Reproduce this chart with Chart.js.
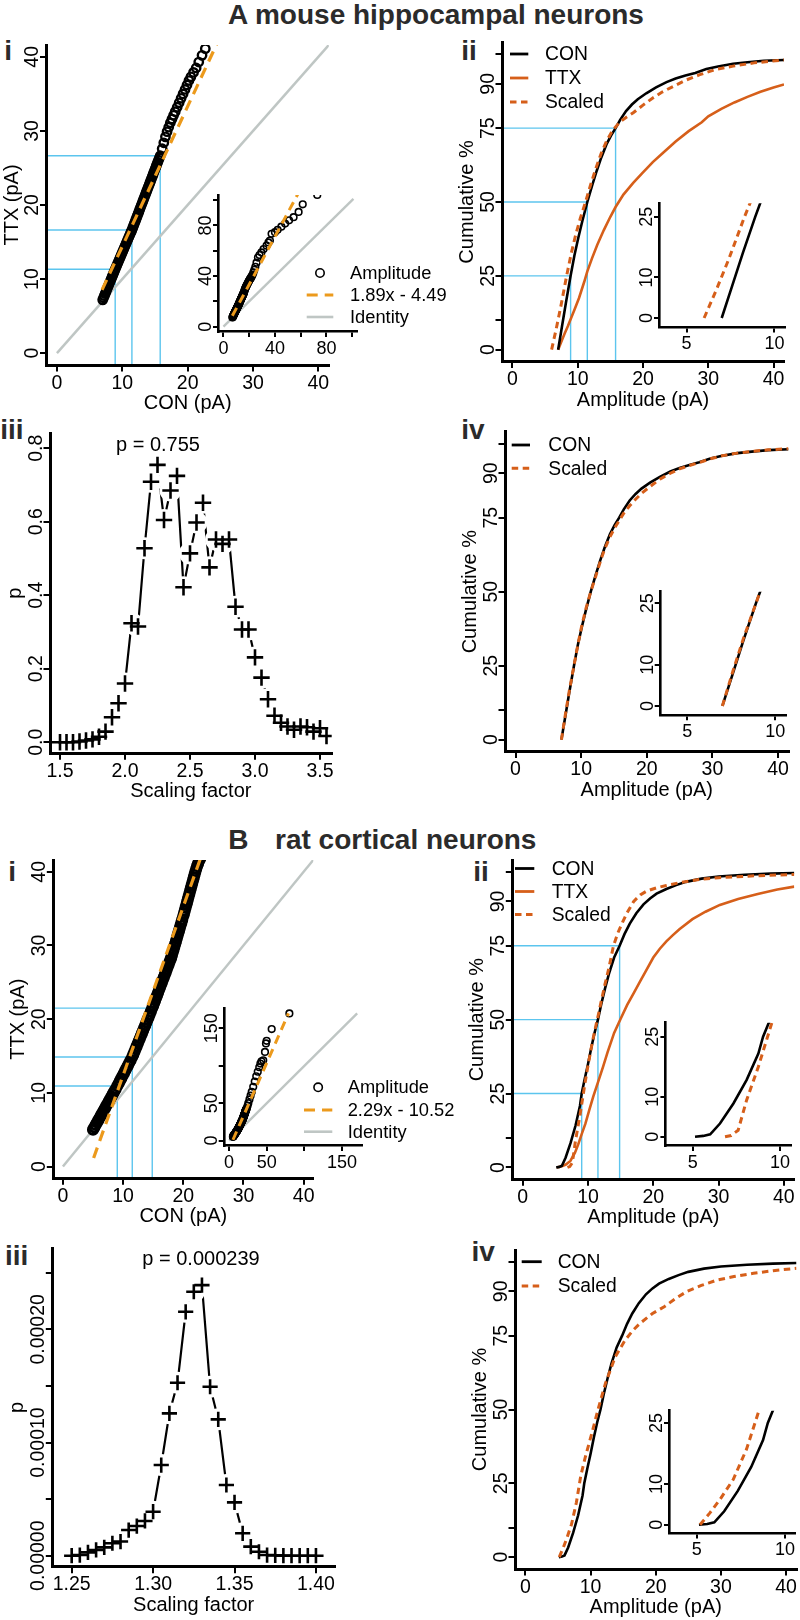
<!DOCTYPE html>
<html><head><meta charset="utf-8">
<script src="https://cdn.jsdelivr.net/npm/chart.js@4.4.1/dist/chart.umd.min.js"></script>
<style>
html,body{margin:0;padding:0;background:#fff;}
body{width:800px;height:1620px;position:relative;overflow:hidden;font-family:"Liberation Sans",Arial,sans-serif;}
canvas{position:absolute;}
.t{position:absolute;font-weight:bold;color:#2b2b2b;white-space:pre;font-size:28px;line-height:28px;}
</style></head><body>
<div class="t" style="left:228px;top:1.3px">A mouse hippocampal neurons</div>
<div class="t" style="left:228.3px;top:826.3px">B</div>
<div class="t" style="left:275px;top:826.3px">rat cortical neurons</div>
<div class="t" style="left:4.2px;top:37.3px">i</div>
<div class="t" style="left:461.2px;top:37.3px">ii</div>
<div class="t" style="left:0.2px;top:415.6px">iii</div>
<div class="t" style="left:461.2px;top:415.6px">iv</div>
<div class="t" style="left:8.2px;top:858px">i</div>
<div class="t" style="left:473.2px;top:858px">ii</div>
<div class="t" style="left:4.9px;top:1242.3px">iii</div>
<div class="t" style="left:471.5px;top:1238px">iv</div>
<script>
// ---------------- tick values / labels ----------------
const ampTicks = [0, 10, 20, 30, 40];
const ampLabels = ['0', '10', '20', '30', '40'];
const cumTicks = [0, 10, 25, 50, 75, 90, 100];
const cumLabels = ['0', '', '25', '50', '75', '90', ''];
const zoomAmpTicks = [5, 10];
const zoomAmpLabels = ['5', '10'];
const zoomCumTicks = [0, 10, 25];
const zoomCumLabels = ['0', '10', '25'];
const qqInsetTicksA = [0, 20, 40, 60, 80, 100];
const qqInsetLabelsA = ['0', '', '40', '', '80', ''];
const qqInsetTicksB = [0, 50, 100, 150];
const qqInsetLabelsB = ['0', '50', '', '150'];
const sfTicksA = [1.5, 2.0, 2.5, 3.0, 3.5];
const sfLabelsA = ['1.5', '2.0', '2.5', '3.0', '3.5'];
const pTicksA = [0, 0.2, 0.4, 0.6, 0.8];
const pLabelsA = ['0.0', '0.2', '0.4', '0.6', '0.8'];
const sfTicksB = [1.25, 1.30, 1.35, 1.40];
const sfLabelsB = ['1.25', '1.30', '1.35', '1.40'];
const pTicksB = [0, 0.00005, 0.0001, 0.00015, 0.0002, 0.00025];
const pLabelsB = ['0.00000', '', '0.00010', '', '0.00020', ''];
const quartilePct = [25, 50, 75];
const cdfNames = ['CON', 'TTX', 'Scaled'];
const qqNamesA = ['Amplitude', '1.89x - 4.49', 'Identity'];
const qqNamesB = ['Amplitude', '2.29x - 10.52', 'Identity'];
const pTextA = 'p = 0.755';
const pTextB = 'p = 0.000239';

// ---------------- Panel A data (mouse hippocampal) ----------------
// QQ points: CON amplitude quantile (pA), TTX amplitude quantile (pA)
const qqA = [[7.0,7.2],[7.13,7.48],[7.26,7.76],[7.39,8.04],[7.52,8.32],[7.65,8.61],[7.78,8.89],[7.91,9.17],[8.04,9.45],[8.17,9.73],[8.3,10.01],[8.43,10.29],[8.56,10.57],[8.69,10.85],[8.8,11.09],[8.91,11.33],
[9.04,11.6],[9.17,11.87],[9.3,12.14],[9.43,12.41],[9.56,12.68],[9.69,12.94],[9.82,13.21],[9.95,13.48],[10.08,13.75],[10.21,14.02],[10.34,14.29],[10.47,14.56],[10.6,14.83],[10.73,15.1],[10.86,15.37],[10.99,15.64],[11.12,15.9],[11.25,16.17],[11.36,16.4],[11.47,16.63],
[11.59,16.91],[11.71,17.19],[11.83,17.46],[11.95,17.74],[12.07,18.02],[12.19,18.3],[12.31,18.57],[12.43,18.85],[12.55,19.13],[12.67,19.41],[12.79,19.68],[12.91,19.96],[13.03,20.24],[13.15,20.52],[13.27,20.8],[13.39,21.07],[13.51,21.35],[13.63,21.63],[13.75,21.91],[13.87,22.18],[13.99,22.46],[14.11,22.74],[14.23,23.02],[14.35,23.29],[14.47,23.57],[14.59,23.85],[14.71,24.13],[14.83,24.41],[14.95,24.68],[15.07,24.96],[15.19,25.24],[15.31,25.52],[15.43,25.79],[15.55,26.07],[15.67,26.35],[15.8,26.65],
[16.1,27.6],[16.35,28.4],[16.6,29.2],[16.85,29.9],[17.1,30.5],[17.35,31.1],[17.6,31.6],[17.85,32.1],[18.1,32.6],[18.4,33.2],[18.7,33.8],[19.0,34.4],[19.3,35.0],[19.6,35.6],[19.9,36.2],[20.2,36.8],[20.5,37.3],[20.9,37.9],[21.3,38.5],[21.7,39.3],[22.2,40.2],[22.7,41.1],[23.3,42.8],[24.0,44.9],[24.8,47.3],[25.7,50.5],[26.8,54.6],[28.0,56.5],[29.5,58.6],[31.2,61.3],[33.5,64.0],[35.0,66.5],[36.1,68.0],[37.4,73.4],[40.0,74.6],[42.1,76.5],[45.0,79.0],[47.9,81.4],[51.0,84.0],[54.5,86.5],[58.4,90.6],[61.6,96.6],[72.9,104.0]];
const fitA = [[6.9,8.55],[59.5,107.97]];          // 1.89x - 4.49
const identA = [[0,0],[101,101]];
const conQA = [8.91, 11.47, 15.8];                // CON quartiles (pA)
const ttxQA = [11.33, 16.63, 26.65];              // TTX quartiles (pA)
const conA = [[7.0,0],[7.6,8],[8.2,16],[8.91,25],[9.5,32],[10.1,38],[10.7,43.5],[11.47,50],[12.2,55.5],[12.9,60.5],[13.6,65],[14.4,69.5],[15.1,72.5],[15.8,75],[16.5,77.8],[17.4,80.8],[18.3,83],[19.2,84.8],[20.5,86.8],[22.0,88.8],[23.6,90.6],[25.0,91.8],[26.5,92.8],[28.0,93.7],[29.7,95.0],[31.5,95.9],[33.8,96.8],[36.0,97.3],[38.5,97.8],[41.6,98.1]];
const ttxA = [[7.0,0],[7.5,2.8],[8.0,5.5],[8.5,8.0],[8.91,10.3],[9.5,13.5],[10.2,17.5],[11.0,23.0],[11.47,26.5],[12.2,31.0],[13.0,35.5],[14.0,40.5],[15.0,45.0],[15.8,48.3],[17.0,52.5],[18.5,56.5],[20.0,60.0],[21.5,63.5],[23.0,66.5],[25.0,70.5],[27.0,74.0],[29.0,77.0],[30.0,79.0],[32.0,81.5],[34.0,83.7],[36.0,85.6],[38.0,87.3],[40.0,88.8],[41.6,89.8]];
const scaledA = [[6.0,0],[6.7,7],[7.4,14.5],[8.3,25],[9.0,32.5],[9.7,39],[10.4,44.5],[11.2,50],[12.0,56],[12.8,61.5],[13.6,66.5],[14.5,71],[15.4,74.4],[16.5,77.2],[17.5,78.8],[18.5,80.2],[20.0,82.8],[21.5,85.2],[23.0,87.3],[24.6,89.1],[26.5,91.2],[28.7,93.1],[31.0,94.8],[33.8,96.0],[37.0,97.1],[41.6,98.1]];
const scaledBestA = [[7.0,0],[7.6,8.5],[8.2,16.5],[8.91,25],[9.5,32],[10.1,38.5],[10.7,44],[11.47,50],[12.2,55],[12.9,60],[13.6,64.5],[14.4,68.5],[15.1,71.5],[15.8,74],[16.5,76.5],[17.4,79],[18.3,81.2],[19.2,83.2],[20.5,85.5],[22.0,88.0],[23.6,90.0],[25.0,91.5],[26.5,92.6],[28.0,93.6],[29.7,94.9],[31.5,95.9],[33.8,96.8],[36.0,97.4],[38.5,97.9],[41.6,98.3]];
const sfA = [1.50,1.55,1.60,1.65,1.70,1.75,1.80,1.85,1.90,1.95,2.00,2.05,2.10,2.15,2.20,2.25,2.30,2.35,2.40,2.45,2.50,2.55,2.60,2.65,2.70,2.75,2.80,2.85,2.90,2.95,3.00,3.05,3.10,3.15,3.20,3.25,3.30,3.35,3.40,3.45,3.50,3.55];
const pA = [0.0,0.0,0.0,0.002,0.005,0.008,0.015,0.029,0.068,0.106,0.16,0.324,0.315,0.528,0.709,0.755,0.605,0.685,0.725,0.422,0.514,0.598,0.652,0.476,0.552,0.540,0.552,0.369,0.307,0.307,0.231,0.176,0.117,0.072,0.053,0.043,0.034,0.043,0.041,0.029,0.038,0.017];

// ---------------- Panel B data (rat cortical) ----------------
const qqB = [[5.0,5.0],[5.22,5.32],[5.44,5.65],[5.66,5.97],[5.88,6.29],[6.1,6.62],[6.32,6.94],[6.54,7.26],[6.76,7.59],[6.98,7.91],[7.2,8.23],[7.42,8.56],[7.64,8.88],[7.86,9.2],[8.08,9.52],[8.3,9.85],[8.52,10.17],[8.74,10.49],[9.03,10.92],
[9.25,11.27],[9.47,11.62],[9.69,11.96],[9.91,12.31],[10.13,12.66],[10.35,13.01],[10.57,13.36],[10.79,13.7],[11.01,14.05],[11.23,14.4],[11.52,14.86],
[11.7,15.22],[11.88,15.58],[12.06,15.94],[12.24,16.3],[12.42,16.66],[12.6,17.02],[12.78,17.38],[12.96,17.74],[13.14,18.1],[13.32,18.46],[13.5,18.82],[13.68,19.18],[13.86,19.54],[14.04,19.9],[14.22,20.26],[14.4,20.62],[14.6,21.02],[14.84,21.5],
[15.0,21.85],[15.16,22.2],[15.32,22.55],[15.48,22.9],[15.64,23.24],[15.8,23.59],[15.96,23.94],[16.12,24.29],[16.28,24.64],[16.44,24.99],[16.6,25.34],[16.76,25.69],[16.92,26.03],[17.08,26.38],[17.24,26.73],[17.4,27.08],[17.56,27.43],[17.72,27.78],[17.88,28.13],[18.0,28.39],
[18.13,28.76],[18.26,29.13],[18.39,29.49],[18.52,29.86],[18.65,30.22],[18.78,30.58],[18.91,30.95],[19.04,31.31],[19.17,31.68],[19.3,32.04],[19.43,32.4],[19.56,32.77],[19.69,33.13],[19.82,33.5],[20.0,34.0],
[20.125,34.38],[20.25,34.75],[20.375,35.13],[20.5,35.5],[20.625,35.88],[20.75,36.25],[20.875,36.63],[21.0,37.0],[21.125,37.38],[21.25,37.75],[21.375,38.13],[21.5,38.5],[21.625,38.88],[21.75,39.25],[21.875,39.63],[22.0,40.0],
[22.15,40.4],[22.3,40.8],[22.45,41.1],[22.6,41.45],[22.75,41.7],[22.9,42.0],[23.5,43.5],[24.5,46.5],[25.5,50.0],[27.0,55.0],[28.5,60.0],[30.0,65.0],[32.0,72.0],[34.0,79.0],[36.0,86.0],[38.0,92.0],[40.0,98.0],[41.5,103.0],[43.0,106.0],[45.3,107.4],[47.6,118.5],[48.9,129.8],[49.8,133.3],[56.5,149.0],[80.0,170.0]];
const fitB = [[5.1,1.16],[78.8,169.93]];          // 2.29x - 10.52
const identB = [[0,0],[170,170]];
const conQB = [9.03, 11.52, 14.84];
const ttxQB = [10.92, 14.86, 21.5];
const conB = [[5.13,0],[5.6,0.2],[6.0,0.6],[6.56,3.3],[7.33,8.3],[8.09,14.2],[8.76,20.8],[9.03,25],[9.5,30],[10.0,35],[10.5,40.5],[11.0,45.5],[11.52,50],[12.0,55],[12.6,60.5],[13.2,65.5],[14.0,71],[14.84,75],[15.6,79],[16.4,82.5],[17.4,86],[18.5,89],[19.5,91],[20.5,92.6],[22.0,94.2],[23.5,95.5],[25.0,96.6],[27.4,97.7],[30.0,98.4],[34.0,99.0],[38.0,99.4],[41.6,99.6]];
const ttxB = [[5.2,0],[6.0,0.4],[6.6,1.0],[7.3,2.2],[8.0,5.0],[8.5,7.8],[9.03,11.3],[9.6,14.8],[10.2,19.5],[10.8,24],[11.52,28.8],[12.3,34],[13.0,39],[14.0,45.5],[15.0,50.3],[16.0,55],[17.0,59],[18.0,63],[19.0,67],[20.0,71],[21.0,74],[22.0,76.5],[23.0,78.6],[24.0,80.6],[26.0,84],[28.0,86.5],[30.2,88.8],[33.0,90.8],[36.0,92.5],[39.0,94.0],[41.6,95.0]];
const scaledB = [[6.85,0],[7.2,0.3],[7.6,1.6],[8.09,9.2],[8.76,17.5],[9.52,28.3],[10.0,34.5],[10.5,40.5],[11.0,46],[11.52,51],[12.0,56],[12.6,62],[13.2,67.5],[13.9,75],[14.6,79.5],[15.3,83],[16.0,86.2],[17.0,90],[18.0,92.2],[19.0,93.5],[20.5,94.6],[22.0,95.4],[24.0,96.3],[27.0,97.4],[30.0,98.0],[35.0,98.6],[41.6,99.1]];
const scaledBestB = [[5.19,0],[5.75,2.9],[6.32,6.2],[7.07,11.1],[7.82,18.5],[8.49,27.5],[9.2,34],[10.2,42],[11.2,50.5],[12.3,59],[13.8,67.9],[15.3,73.5],[16.5,76.8],[17.6,79.2],[19.5,82.5],[21.3,84.8],[23.0,87.5],[24.8,90],[27.0,92],[29.4,93.8],[32.0,95],[35.0,96.1],[38.0,97],[41.6,97.8]];
const sfB = [1.250,1.255,1.260,1.265,1.270,1.275,1.280,1.285,1.290,1.295,1.300,1.305,1.310,1.315,1.320,1.325,1.330,1.335,1.340,1.345,1.350,1.355,1.360,1.365,1.370,1.375,1.380,1.385,1.390,1.395,1.400];
const pB = [0,6e-7,3.0e-6,5.1e-6,7.4e-6,1.10e-5,1.25e-5,2.27e-5,2.62e-5,3.07e-5,3.89e-5,8.01e-5,1.258e-4,1.528e-4,2.155e-4,2.332e-4,2.391e-4,1.493e-4,1.205e-4,6.25e-5,4.71e-5,1.98e-5,8.0e-6,3.5e-6,6e-7,3e-7,1e-7,0,0,0,0];

// ---------------- styles ----------------
const FONT = '"Liberation Sans", Arial, Helvetica, sans-serif';
const BLACK = '#000000', VERM = '#d65f1a', ORANGE = '#ec9a1c', SKY = '#5cc5ee', GREY = '#bfc6c4';
const DASH_S = [6.5, 4.5], DASH_F = [11, 7];

function pts(a) { return a.map(p => ({x: p[0], y: p[1]})); }
function lineDS(data, color, width, dash, order) {
  return {data: pts(data), showLine: true, borderColor: color, borderWidth: width, borderDash: dash || [],
          pointRadius: 0, fill: false, tension: 0, order: order};
}
function circDS(data, r, bw, order) {
  return {data: pts(data), showLine: false, pointStyle: 'circle', pointRadius: r,
          pointBorderColor: '#000', pointBackgroundColor: 'rgba(0,0,0,0)', pointBorderWidth: bw, order: order};
}
function guides(xq, yq, xmin, ymin) {
  const out = [];
  xq.forEach((x, i) => {
    out.push(lineDS([[x, ymin], [x, yq[i]]], SKY, 1.4, [], 10));
    out.push(lineDS([[xmin, yq[i]], [x, yq[i]]], SKY, 1.4, [], 10));
  });
  return out;
}
function pCurve(xs, ys, crossR, gapR) {
  const d = xs.map((x, i) => [x, ys[i]]);
  return [
    {data: pts(d), showLine: true, borderColor: '#000', borderWidth: 2.2, pointRadius: 0, order: 3},
    {data: pts(d), showLine: false, pointStyle: 'circle', pointRadius: gapR, pointBackgroundColor: '#fff',
     pointBorderColor: 'rgba(0,0,0,0)', pointBorderWidth: 0, clip: 0, order: 2},
    {data: pts(d), showLine: false, pointStyle: 'cross', pointRadius: crossR, pointBorderColor: '#000',
     pointBorderWidth: 2.6, order: 1}
  ];
}

function drawText(chart, c, ox, oy) {
  const ctx = chart.ctx, ca = chart.chartArea, sx = chart.scales.x, sy = chart.scales.y;
  ctx.save();
  ctx.fillStyle = '#000';
  ctx.font = (c.inset ? 18 : 19.5) + 'px ' + FONT;
  ctx.textAlign = 'center'; ctx.textBaseline = 'alphabetic';
  c.xt.forEach((v, i) => { if (c.xl[i]) ctx.fillText(c.xl[i], sx.getPixelForValue(v), ca.bottom + (c.inset ? 22 : 23.5)); });
  const yo = c.inset ? 7.5 : 8.5;
  c.yt.forEach((v, i) => {
    if (!c.yl[i]) return;
    ctx.save(); ctx.translate(ca.left - yo, sy.getPixelForValue(v)); ctx.rotate(-Math.PI / 2);
    ctx.fillText(c.yl[i], 0, 0); ctx.restore();
  });
  ctx.font = '20px ' + FONT;
  if (c.xTitle) ctx.fillText(c.xTitle, (ca.left + ca.right) / 2, ca.bottom + 44);
  if (c.yTitle) {
    ctx.save(); ctx.translate(ca.left - 29, (ca.top + ca.bottom) / 2); ctx.rotate(-Math.PI / 2);
    ctx.fillText(c.yTitle, 0, 0); ctx.restore();
  }
  if (c.note) ctx.fillText(c.note.text, c.note.x - ox, c.note.y - oy);
  if (c.legend) {
    ctx.font = c.legend.size + 'px ' + FONT;
    ctx.textAlign = 'left'; ctx.textBaseline = 'middle';
    c.legend.items.forEach(it => {
      const y = it.y - oy;
      ctx.save();
      ctx.beginPath();
      if (it.kind === 'circle') {
        ctx.arc((it.x0 + it.x1) / 2 - ox, y, 4.2, 0, 2 * Math.PI);
        ctx.lineWidth = 1.6; ctx.strokeStyle = '#000';
      } else {
        ctx.setLineDash(it.dash || []); ctx.lineWidth = it.width; ctx.strokeStyle = it.color;
        ctx.moveTo(it.x0 - ox, y); ctx.lineTo(it.x1 - ox, y);
      }
      ctx.stroke();
      ctx.restore();
      ctx.fillText(it.label, it.tx - ox, y + 1);
    });
  }
  ctx.restore();
}

function panel(c) {
  const pad = c.pad || (c.inset ? [30, 10, 12, 30] : [46, 12, 14, 56]);
  const cl = Math.floor(c.plot.l - pad[0]), ct = Math.floor(c.plot.t - pad[1]);
  const cr = Math.ceil(c.plot.r + pad[2]), cb = Math.ceil(c.plot.b + pad[3]);
  const cv = document.createElement('canvas');
  cv.width = cr - cl; cv.height = cb - ct;
  cv.style.left = cl + 'px'; cv.style.top = ct + 'px';
  cv.style.width = (cr - cl) + 'px'; cv.style.height = (cb - ct) + 'px';
  document.body.appendChild(cv);
  const bw = c.inset ? 2.6 : 3, tl = c.inset ? 5.3 : 6.5;
  const axis = (pos, range, ticks, fitFn) => ({
    type: 'linear', position: pos, min: range[0], max: range[1], bounds: 'data',
    afterBuildTicks: s => { s.ticks = ticks.map(v => ({value: v})); },
    afterFit: fitFn,
    ticks: {display: false, autoSkip: false},
    grid: {display: true, drawOnChartArea: false, drawTicks: true, tickLength: tl, tickWidth: 2, lineWidth: 2,
           tickColor: '#000', color: '#000'},
    border: {display: true, width: bw, color: '#000', z: 1}
  });
  return new Chart(cv, {
    type: 'scatter',
    data: {datasets: c.datasets},
    options: {
      responsive: false, animation: false, devicePixelRatio: 1, events: [],
      layout: {padding: {left: 0, top: c.plot.t - ct, right: cr - c.plot.r, bottom: 0}},
      plugins: {legend: {display: false}, tooltip: {enabled: false}},
      scales: {
        x: axis('bottom', c.xr, c.xt, s => { s.height = cb - c.plot.b; }),
        y: axis('left', c.yr, c.yt, s => { s.width = c.plot.l - cl; })
      }
    },
    plugins: [{id: 'txt', afterDraw: ch => drawText(ch, c, cl, ct)}]
  });
}

function cdfLegend(x0, x1, tx, ys, withTTX) {
  const items = [{kind: 'line', x0, x1, y: ys[0], tx, label: cdfNames[0], color: BLACK, width: 2.8}];
  let k = 1;
  if (withTTX) items.push({kind: 'line', x0, x1, y: ys[k++], tx, label: cdfNames[1], color: VERM, width: 2.8});
  items.push({kind: 'line', x0, x1, y: ys[k], tx, label: cdfNames[2], color: VERM, width: 3, dash: DASH_S});
  return {size: 19.3, items};
}
function qqLegend(x0, x1, tx, ys, names) {
  return {size: 18.3, items: [
    {kind: 'circle', x0, x1, y: ys[0], tx, label: names[0]},
    {kind: 'line', x0, x1, y: ys[1], tx, label: names[1], color: ORANGE, width: 3, dash: DASH_F},
    {kind: 'line', x0, x1, y: ys[2], tx, label: names[2], color: GREY, width: 2.6}
  ]};
}

// ================= PANEL A =================
panel({plot: {l: 46.5, t: 45, r: 328.8, b: 365}, xr: [-1.6, 41.6], yr: [-1.6, 41.6],
  xt: ampTicks, xl: ampLabels, yt: ampTicks, yl: ampLabels, xTitle: 'CON (pA)', yTitle: 'TTX (pA)',
  datasets: [...guides(conQA, ttxQA, -1.6, -1.6), lineDS(identA, GREY, 2.5, [], 8),
             circDS(qqA, 4.2, 2.4, 5), lineDS(fitA, ORANGE, 3.2, DASH_F, 2)]});
panel({inset: true, pad: [30, 10, 125, 30], plot: {l: 218.3, t: 195, r: 357.3, b: 331.7}, xr: [-4, 104], yr: [-4, 104],
  xt: qqInsetTicksA, xl: qqInsetLabelsA, yt: qqInsetTicksA, yl: qqInsetLabelsA,
  datasets: [lineDS(identA, GREY, 2.4, [], 8), circDS(qqA, 3.3, 1.6, 5), lineDS(fitA, ORANGE, 3, [9, 6], 2)],
  legend: qqLegend(306.7, 333.3, 350, [273, 295, 317], qqNamesA)});
panel({plot: {l: 502, t: 42.5, r: 784, b: 361.5}, xr: [-1.6, 41.6], yr: [-4, 104],
  xt: ampTicks, xl: ampLabels, yt: cumTicks, yl: cumLabels, xTitle: 'Amplitude (pA)', yTitle: 'Cumulative %',
  datasets: [...guides(conQA, quartilePct, -1.6, -4), lineDS(ttxA, VERM, 2.6, [], 6),
             lineDS(conA, BLACK, 2.6, [], 4), lineDS(scaledA, VERM, 3, DASH_S, 3)],
  legend: cdfLegend(510, 528.3, 545, [54, 78, 102], true)});
panel({inset: true, plot: {l: 659.3, t: 203.3, r: 785, b: 327.3}, xr: [3.45, 10.6], yr: [-2.3, 28.3],
  xt: zoomAmpTicks, xl: zoomAmpLabels, yt: zoomCumTicks, yl: zoomCumLabels,
  datasets: [lineDS(conA, BLACK, 2.6, [], 4), lineDS(scaledA, VERM, 3, DASH_S, 3)]});
panel({plot: {l: 50, t: 433.3, r: 331.7, b: 753.3}, xr: [1.423, 3.59], yr: [-0.03, 0.8408],
  xt: sfTicksA, xl: sfLabelsA, yt: pTicksA, yl: pLabelsA, xTitle: 'Scaling factor', yTitle: 'p',
  note: {text: pTextA, x: 158, y: 451}, datasets: pCurve(sfA, pA, 8.2, 11)});
panel({plot: {l: 505, t: 431.8, r: 788.5, b: 751.5}, xr: [-1.6, 41.6], yr: [-4, 104],
  xt: ampTicks, xl: ampLabels, yt: cumTicks, yl: cumLabels, xTitle: 'Amplitude (pA)', yTitle: 'Cumulative %',
  datasets: [lineDS(conA, BLACK, 2.6, [], 4), lineDS(scaledBestA, VERM, 3, DASH_S, 3)],
  legend: cdfLegend(511.7, 530, 548.3, [445, 468.3], false)});
panel({inset: true, plot: {l: 660, t: 591.7, r: 785.7, b: 715}, xr: [3.45, 10.6], yr: [-2.2, 27.8],
  xt: zoomAmpTicks, xl: zoomAmpLabels, yt: zoomCumTicks, yl: zoomCumLabels,
  datasets: [lineDS(conA, BLACK, 2.6, [], 4), lineDS(scaledBestA, VERM, 3, DASH_S, 3)]});

// ================= PANEL B =================
panel({plot: {l: 53.3, t: 860, r: 313.3, b: 1178.3}, xr: [-1.6, 41.6], yr: [-1.6, 41.6],
  xt: ampTicks, xl: ampLabels, yt: ampTicks, yl: ampLabels, xTitle: 'CON (pA)', yTitle: 'TTX (pA)',
  datasets: [...guides(conQB, ttxQB, -1.6, -1.6), lineDS(identB, GREY, 2.5, [], 8),
             circDS(qqB, 4.6, 3, 5), lineDS(fitB, ORANGE, 3.2, DASH_F, 2)]});
panel({inset: true, pad: [30, 10, 125, 30], plot: {l: 224, t: 1008.3, r: 362.3, b: 1145.7}, xr: [-6.8, 176.8], yr: [-6.8, 176.8],
  xt: qqInsetTicksB, xl: qqInsetLabelsB, yt: qqInsetTicksB, yl: qqInsetLabelsB,
  datasets: [lineDS(identB, GREY, 2.4, [], 8), circDS(qqB, 3.3, 1.6, 5), lineDS(fitB, ORANGE, 3, [9, 6], 2)],
  legend: qqLegend(304, 332.3, 347.7, [1087.3, 1110, 1131.7], qqNamesB)});
panel({plot: {l: 512.3, t: 860, r: 794.3, b: 1179.3}, xr: [-1.6, 41.6], yr: [-4, 104],
  xt: ampTicks, xl: ampLabels, yt: cumTicks, yl: cumLabels, xTitle: 'Amplitude (pA)', yTitle: 'Cumulative %',
  datasets: [...guides(conQB, quartilePct, -1.6, -4), lineDS(ttxB, VERM, 2.6, [], 6),
             lineDS(conB, BLACK, 2.6, [], 4), lineDS(scaledB, VERM, 3, DASH_S, 3)],
  legend: cdfLegend(515, 534.3, 551.7, [868.5, 891.5, 914.5], true)});
panel({inset: true, plot: {l: 665.7, t: 1022.7, r: 791, b: 1145.7}, xr: [3.45, 10.63], yr: [-2.25, 28.5],
  xt: zoomAmpTicks, xl: zoomAmpLabels, yt: zoomCumTicks, yl: zoomCumLabels,
  datasets: [lineDS(conB, BLACK, 2.6, [], 4), lineDS(scaledB, VERM, 3, DASH_S, 3)]});
panel({plot: {l: 52.3, t: 1248.3, r: 335, b: 1566.7}, xr: [1.2381, 1.4117], yr: [-0.0000097, 0.0002716],
  xt: sfTicksB, xl: sfLabelsB, yt: pTicksB, yl: pLabelsB, xTitle: 'Scaling factor', yTitle: 'p',
  note: {text: pTextB, x: 201, y: 1265}, datasets: pCurve(sfB, pB, 7.6, 11)});
panel({plot: {l: 515, t: 1250, r: 796.5, b: 1569}, xr: [-1.6, 41.6], yr: [-4, 104],
  xt: ampTicks, xl: ampLabels, yt: cumTicks, yl: cumLabels, xTitle: 'Amplitude (pA)', yTitle: 'Cumulative %',
  datasets: [lineDS(conB, BLACK, 2.6, [], 4), lineDS(scaledBestB, VERM, 3, DASH_S, 3)],
  legend: cdfLegend(521.7, 541.7, 557.7, [1261.7, 1286], false)});
panel({inset: true, plot: {l: 669.3, t: 1410.7, r: 795, b: 1533.3}, xr: [3.45, 10.57], yr: [-2.1, 28],
  xt: zoomAmpTicks, xl: zoomAmpLabels, yt: zoomCumTicks, yl: zoomCumLabels,
  datasets: [lineDS(conB, BLACK, 2.6, [], 4), lineDS(scaledBestB, VERM, 3, DASH_S, 3)]});
</script>
</body></html>
